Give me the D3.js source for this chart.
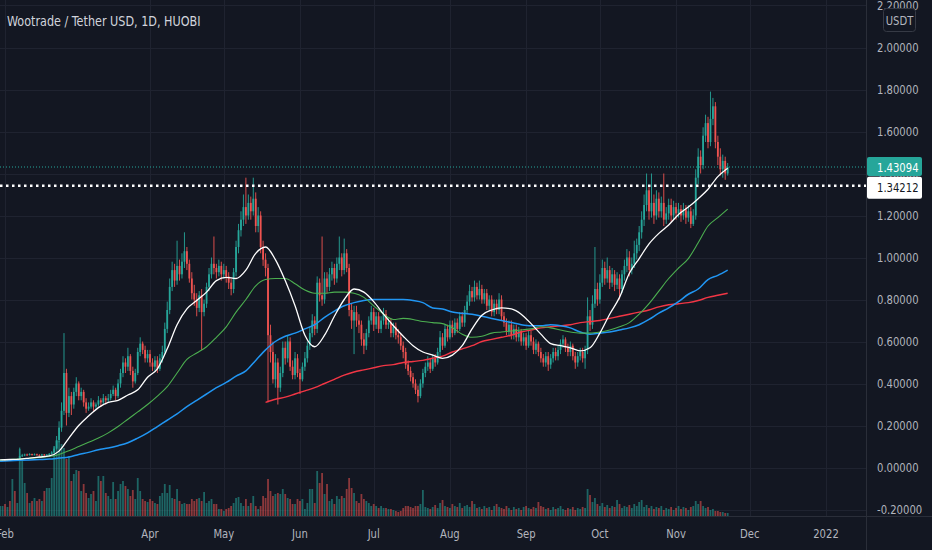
<!DOCTYPE html>
<html>
<head>
<meta charset="utf-8">
<script src="https://cdn.jsdelivr.net/npm/d3@7"></script>
<style>
    html, body { margin: 0; padding: 0; background: #131722; overflow: hidden; }
    svg { display: block; }
    text { font-family: "DejaVu Sans Condensed", "Liberation Sans", sans-serif; }
</style>
</head>
<body>
<svg id="chart" width="932" height="550"></svg>
<script>
const title = 'Wootrade / Tether USD, 1D, HUOBI';
const quoteUnit = 'USDT';

// daily candles, first one on 2021-01-30, open of a day = close of the day before
const firstDay = '2021-01-30';
const firstOpen = 0.033;
const closes = [
    0.034, 0.036, 0.035, 0.037, 0.036, 0.038, 0.037,
    0.040, 0.055, 0.058, 0.062, 0.060, 0.064, 0.061,
    0.063, 0.060, 0.058, 0.062, 0.059, 0.061, 0.065,
    0.072, 0.090, 0.130, 0.190, 0.270, 0.450, 0.260,
    0.34, 0.30, 0.36, 0.40, 0.34, 0.36, 0.31,
    0.28, 0.29, 0.31, 0.29, 0.30, 0.32, 0.31,
    0.33, 0.32, 0.33, 0.35, 0.37, 0.34, 0.40,
    0.45, 0.50, 0.48, 0.53, 0.46, 0.41, 0.45,
    0.55, 0.59, 0.56, 0.52, 0.54, 0.50, 0.48,
    0.51, 0.47, 0.52, 0.55, 0.66, 0.75, 0.86,
    0.94, 0.89, 0.96, 0.92, 0.98, 1.03, 0.97,
    0.90, 0.83, 0.80, 0.76, 0.82, 0.74, 0.78,
    0.86, 0.92, 0.97, 0.95, 0.93, 0.96, 0.92,
    0.94, 0.91, 0.88, 0.85, 0.93, 1.05, 1.13,
    1.18, 1.24, 1.20, 1.26, 1.22, 1.28, 1.15,
    1.20, 1.05, 0.99, 0.95, 0.63, 0.55, 0.42,
    0.50, 0.38, 0.45, 0.57, 0.52, 0.60, 0.48,
    0.44, 0.52, 0.45, 0.42, 0.48, 0.52, 0.58,
    0.64, 0.70, 0.66, 0.88, 0.82, 0.80, 0.90,
    0.86, 0.92, 0.95, 0.90, 0.97, 1.00, 0.94,
    1.02, 0.95, 0.75, 0.70, 0.74, 0.70, 0.68,
    0.61, 0.58, 0.64, 0.70, 0.74, 0.68, 0.72,
    0.66, 0.70, 0.73, 0.68, 0.69, 0.64, 0.67,
    0.63, 0.62, 0.58, 0.55, 0.49, 0.46, 0.43,
    0.40, 0.37, 0.34, 0.40, 0.45, 0.48, 0.50,
    0.47, 0.52, 0.50, 0.55, 0.62, 0.58, 0.66,
    0.62, 0.68, 0.64, 0.69, 0.66, 0.72, 0.69,
    0.75, 0.79, 0.84, 0.81, 0.86, 0.82, 0.85,
    0.80, 0.83, 0.77, 0.80, 0.74, 0.78, 0.75,
    0.80, 0.72, 0.69, 0.65, 0.68, 0.63, 0.66,
    0.62, 0.65, 0.60, 0.62, 0.58, 0.63, 0.60,
    0.56, 0.59, 0.55, 0.52, 0.50, 0.53, 0.49,
    0.52, 0.55, 0.53, 0.56, 0.59, 0.61, 0.57,
    0.55, 0.58, 0.53, 0.50, 0.53, 0.55, 0.52,
    0.56, 0.72, 0.68, 0.78, 0.85, 0.80, 0.88,
    0.95, 0.90, 0.94, 0.88, 0.92, 0.87, 0.90,
    0.85, 0.92, 0.96, 1.00, 0.94, 0.97, 1.02,
    1.06, 1.12, 1.18, 1.25, 1.32, 1.22, 1.26,
    1.20, 1.28, 1.22, 1.26, 1.18, 1.21, 1.25,
    1.20, 1.24, 1.21, 1.23, 1.20, 1.23, 1.19,
    1.22, 1.16, 1.20, 1.38, 1.48, 1.44, 1.58,
    1.64, 1.55, 1.66, 1.72, 1.55, 1.48, 1.42,
    1.46, 1.40, 1.43094,
];
const highs = [
    0.036, 0.038, 0.037, 0.039, 0.038, 0.040, 0.039,
    0.043, 0.095, 0.065, 0.066, 0.066, 0.068, 0.066,
    0.067, 0.066, 0.063, 0.065, 0.064, 0.064, 0.069,
    0.078, 0.100, 0.150, 0.220, 0.310, 0.640, 0.470,
    0.38, 0.36, 0.38, 0.43, 0.41, 0.38, 0.37,
    0.33, 0.31, 0.33, 0.32, 0.31, 0.34, 0.33,
    0.35, 0.34, 0.35, 0.37, 0.39, 0.38, 0.42,
    0.47, 0.53, 0.52, 0.57, 0.54, 0.48, 0.47,
    0.57, 0.62, 0.60, 0.58, 0.56, 0.56, 0.52,
    0.53, 0.53, 0.54, 0.58, 0.69, 0.79, 0.90,
    0.98, 0.97, 1.08, 0.99, 1.02, 1.12, 1.05,
    0.99, 0.93, 0.87, 0.83, 0.84, 0.85, 0.80,
    0.88, 0.95, 1.00, 1.10, 0.97, 0.99, 0.98,
    0.97, 0.96, 0.93, 0.90, 0.95, 1.08, 1.16,
    1.22, 1.30, 1.38, 1.30, 1.29, 1.38, 1.31,
    1.24, 1.22, 1.08, 1.02, 0.97, 0.68, 0.60,
    0.54, 0.52, 0.48, 0.60, 0.60, 0.63, 0.62,
    0.51, 0.55, 0.54, 0.47, 0.50, 0.55, 0.60,
    0.67, 0.73, 0.72, 0.91, 0.90, 1.10, 0.93,
    0.93, 0.95, 0.98, 0.97, 1.00, 1.10, 1.02,
    1.09, 1.04, 0.97, 0.78, 0.77, 0.77, 0.73,
    0.70, 0.64, 0.66, 0.72, 0.77, 0.76, 0.74,
    0.74, 0.72, 0.76, 0.75, 0.71, 0.71, 0.69,
    0.69, 0.66, 0.64, 0.60, 0.57, 0.51, 0.48,
    0.45, 0.42, 0.39, 0.42, 0.47, 0.50, 0.53,
    0.52, 0.54, 0.54, 0.57, 0.65, 0.64, 0.68,
    0.68, 0.70, 0.70, 0.71, 0.71, 0.74, 0.74,
    0.77, 0.82, 0.87, 0.86, 0.89, 0.88, 0.89,
    0.87, 0.85, 0.85, 0.82, 0.82, 0.80, 0.80,
    0.83, 0.82, 0.74, 0.71, 0.70, 0.70, 0.68,
    0.68, 0.67, 0.66, 0.64, 0.64, 0.65, 0.65,
    0.62, 0.61, 0.60, 0.57, 0.54, 0.55, 0.55,
    0.54, 0.57, 0.57, 0.58, 0.61, 0.63, 0.62,
    0.59, 0.60, 0.59, 0.55, 0.55, 0.57, 0.57,
    0.58, 0.81, 0.75, 0.82, 1.05, 0.88, 0.92,
    0.99, 0.98, 1.00, 0.96, 0.95, 0.94, 0.93,
    0.92, 0.94, 0.99, 1.04, 1.03, 1.00, 1.08,
    1.09, 1.15, 1.22, 1.30, 1.40, 1.34, 1.40,
    1.30, 1.32, 1.31, 1.29, 1.40, 1.24, 1.28,
    1.28, 1.27, 1.26, 1.26, 1.25, 1.26, 1.25,
    1.25, 1.24, 1.23, 1.42, 1.52, 1.51, 1.62,
    1.68, 1.67, 1.79, 1.76, 1.74, 1.58, 1.52,
    1.49, 1.48, 1.45,
];
const lows = [
    0.031, 0.033, 0.033, 0.034, 0.034, 0.035, 0.035,
    0.035, 0.038, 0.050, 0.054, 0.056, 0.057, 0.057,
    0.058, 0.057, 0.054, 0.055, 0.056, 0.056, 0.059,
    0.062, 0.068, 0.085, 0.120, 0.170, 0.250, 0.200,
    0.24, 0.25, 0.28, 0.34, 0.32, 0.32, 0.29,
    0.26, 0.27, 0.28, 0.27, 0.28, 0.29, 0.29,
    0.30, 0.30, 0.31, 0.32, 0.34, 0.32, 0.33,
    0.38, 0.43, 0.45, 0.46, 0.44, 0.38, 0.40,
    0.44, 0.53, 0.54, 0.50, 0.50, 0.48, 0.46,
    0.46, 0.45, 0.46, 0.50, 0.54, 0.64, 0.73,
    0.84, 0.86, 0.87, 0.89, 0.90, 0.95, 0.94,
    0.88, 0.80, 0.77, 0.72, 0.74, 0.56, 0.72,
    0.76, 0.84, 0.90, 0.92, 0.90, 0.91, 0.89,
    0.90, 0.88, 0.85, 0.82, 0.83, 0.91, 1.02,
    1.10, 1.15, 1.16, 1.18, 1.18, 1.20, 1.12,
    1.12, 1.02, 0.96, 0.91, 0.31, 0.50, 0.40,
    0.38, 0.30, 0.36, 0.43, 0.49, 0.50, 0.46,
    0.42, 0.42, 0.43, 0.35, 0.41, 0.46, 0.50,
    0.56, 0.62, 0.63, 0.64, 0.79, 0.77, 0.78,
    0.83, 0.84, 0.89, 0.87, 0.88, 0.94, 0.91,
    0.92, 0.93, 0.72, 0.66, 0.54, 0.67, 0.64,
    0.58, 0.54, 0.56, 0.62, 0.68, 0.65, 0.66,
    0.64, 0.64, 0.68, 0.66, 0.66, 0.62, 0.62,
    0.61, 0.59, 0.56, 0.52, 0.47, 0.44, 0.41,
    0.38, 0.35, 0.31, 0.33, 0.38, 0.43, 0.46,
    0.45, 0.46, 0.48, 0.49, 0.53, 0.56, 0.57,
    0.60, 0.61, 0.62, 0.63, 0.64, 0.65, 0.67,
    0.67, 0.73, 0.77, 0.79, 0.79, 0.80, 0.80,
    0.78, 0.78, 0.75, 0.75, 0.72, 0.72, 0.73,
    0.73, 0.70, 0.67, 0.63, 0.63, 0.61, 0.61,
    0.60, 0.60, 0.58, 0.58, 0.56, 0.57, 0.58,
    0.54, 0.54, 0.53, 0.50, 0.48, 0.48, 0.46,
    0.47, 0.50, 0.51, 0.51, 0.54, 0.57, 0.55,
    0.53, 0.53, 0.51, 0.47, 0.48, 0.51, 0.50,
    0.47, 0.54, 0.65, 0.66, 0.76, 0.77, 0.78,
    0.86, 0.87, 0.88, 0.85, 0.86, 0.84, 0.85,
    0.80, 0.83, 0.89, 0.93, 0.91, 0.92, 0.95,
    0.99, 1.03, 1.09, 1.15, 1.22, 1.18, 1.19,
    1.16, 1.18, 1.19, 1.19, 1.15, 1.16, 1.18,
    1.17, 1.18, 1.18, 1.19, 1.17, 1.18, 1.16,
    1.17, 1.14, 1.15, 1.18, 1.35, 1.40, 1.42,
    1.55, 1.52, 1.53, 1.63, 1.52, 1.44, 1.39,
    1.38, 1.37, 1.39,
];
// volume, in thousands of WOO
const volumes = [
    10, 10, 12, 9, 15, 37, 25,
    13, 67, 58, 33, 23, 13, 15,
    18, 15, 17, 15, 25, 28, 28,
    38, 70, 75, 75, 72, 68, 57,
    60, 35, 42, 46, 45, 25, 32,
    23, 18, 22, 25, 15, 40, 35,
    40, 23, 20, 17, 34, 17, 25,
    32, 35, 30, 27, 20, 26, 17,
    38, 25, 17, 15, 14, 17, 15,
    13, 12, 20, 23, 32, 23, 31,
    18, 17, 27, 15, 12, 13, 12,
    12, 17, 15, 17, 18, 15, 24,
    13, 15, 17, 12, 12, 7, 7,
    5, 7, 8, 10, 13, 18, 19,
    13, 10, 17, 10, 13, 20, 10,
    7, 10, 20, 18, 37, 25, 20,
    22, 23, 22, 27, 22, 18, 17,
    12, 12, 17, 15, 17, 7, 13,
    27, 27, 13, 45, 33, 43, 22,
    32, 15, 17, 12, 20, 17, 20,
    18, 27, 38, 28, 23, 15, 13,
    22, 17, 15, 13, 10, 12, 10,
    8, 10, 8, 8, 7, 7, 6,
    5, 4, 5, 8, 10, 10, 9,
    8, 10, 10, 12, 26, 9, 8,
    7, 9, 11, 8, 13, 16, 10,
    9, 8, 12, 10, 9, 13, 8,
    10, 11, 9, 15, 12, 8, 9,
    7, 10, 8, 9, 6, 10, 12,
    9, 8, 7, 10, 8, 6, 9,
    7, 8, 6, 9, 10, 8, 7,
    9, 8, 14, 10, 9, 7, 8,
    6, 9, 7, 8, 10, 7, 6,
    8, 7, 9, 6, 8, 7, 9,
    8, 27, 21, 14, 18, 12, 10,
    13, 9, 11, 8, 10, 9, 16,
    12, 8, 10, 9, 11, 8, 12,
    10, 14, 16, 9, 11, 8, 10,
    7, 9, 8, 10, 6, 8, 7,
    9, 6, 8, 10, 7, 9, 8,
    6, 9, 10, 15, 12, 15, 10,
    8, 9, 6, 7, 5, 5, 4,
    4, 3, 3,
];

// moving averages, read every 4 days starting 2021-01-30
const maStep = 4;
const maWhite = [
    0.036, 0.038, 0.040, 0.045, 0.050, 0.055, 0.078, 0.14, 0.20, 0.245,
    0.285, 0.31, 0.32, 0.345, 0.37, 0.43, 0.47, 0.565, 0.68, 0.755,
    0.795, 0.835, 0.89, 0.905, 0.90, 0.94, 1.02, 1.05, 0.99, 0.89,
    0.77, 0.63, 0.575, 0.63, 0.72, 0.80, 0.85, 0.835, 0.79, 0.73,
    0.675, 0.625, 0.58, 0.55, 0.535, 0.52, 0.535, 0.58, 0.66, 0.725,
    0.75, 0.76, 0.755, 0.73, 0.685, 0.635, 0.59, 0.58, 0.57, 0.555,
    0.57, 0.64, 0.73, 0.81, 0.925, 0.995, 1.065, 1.115, 1.155, 1.205,
    1.24, 1.28, 1.325, 1.385, 1.425,
];
const maGreen = [
    0.036, 0.038, 0.040, 0.044, 0.048, 0.052, 0.062, 0.08, 0.10, 0.12,
    0.14, 0.165, 0.195, 0.23, 0.265, 0.30, 0.34, 0.385, 0.45, 0.515,
    0.545, 0.575, 0.62, 0.67, 0.74, 0.80, 0.865, 0.895, 0.90, 0.90,
    0.875, 0.845, 0.83, 0.83, 0.835, 0.835, 0.83, 0.81, 0.77, 0.73,
    0.705, 0.71, 0.705, 0.695, 0.69, 0.685, 0.665, 0.635, 0.62, 0.625,
    0.64, 0.645, 0.65, 0.655, 0.66, 0.67, 0.665, 0.655, 0.645, 0.64,
    0.64, 0.645, 0.655, 0.67, 0.69, 0.73, 0.78, 0.84, 0.90, 0.95,
    0.995, 1.07, 1.15, 1.19, 1.23,
];
const maBlue = [
    0.030, 0.032, 0.034, 0.036, 0.038, 0.040, 0.045, 0.05, 0.062, 0.072,
    0.085, 0.093, 0.104, 0.118, 0.14, 0.165, 0.195, 0.225, 0.255, 0.29,
    0.32, 0.35, 0.38, 0.405, 0.435, 0.46, 0.51, 0.56, 0.60, 0.625,
    0.64, 0.66, 0.68, 0.715, 0.745, 0.77, 0.785, 0.795, 0.80, 0.80,
    0.80, 0.80, 0.795, 0.785, 0.76, 0.755, 0.74, 0.735, 0.73, 0.72,
    0.71, 0.70, 0.69, 0.68, 0.675, 0.675, 0.68, 0.675, 0.665, 0.645,
    0.635, 0.64, 0.645, 0.655, 0.665, 0.68, 0.705, 0.735, 0.76, 0.79,
    0.825, 0.85, 0.895, 0.915, 0.94,
];
const maRed = [
    null, null, null, null, null, null, null, null, null, null,
    null, null, null, null, null, null, null, null, null, null,
    null, null, null, null, null, null, null, 0.31, 0.325, 0.335,
    0.35, 0.365, 0.38, 0.40, 0.42, 0.44, 0.455, 0.465, 0.475, 0.485,
    0.49, 0.50, 0.505, 0.51, 0.52, 0.53, 0.55, 0.565, 0.58, 0.60,
    0.61, 0.62, 0.63, 0.645, 0.655, 0.665, 0.67, 0.675, 0.68, 0.69,
    0.695, 0.70, 0.71, 0.72, 0.73, 0.74, 0.75, 0.765, 0.775, 0.78,
    0.785, 0.795, 0.81, 0.82, 0.83,
];

const priceTicks = [-0.2, 0, 0.2, 0.4, 0.6, 0.8, 1.0, 1.2, 1.4, 1.6, 1.8, 2.0, 2.2];
const timeTicks = [
    ['2021-02-01', 'Feb'], ['2021-04-01', 'Apr'], ['2021-05-01', 'May'],
    ['2021-06-01', 'Jun'], ['2021-07-01', 'Jul'], ['2021-08-01', 'Aug'],
    ['2021-09-01', 'Sep'], ['2021-10-01', 'Oct'], ['2021-11-01', 'Nov'],
    ['2021-12-01', 'Dec'], ['2022-01-01', '2022'],
];
const markPrice = 1.34212;

const parse = d3.utcParse('%Y-%m-%d');
const paneW = 866;
const paneH = 516;
const up = '#26a69a';
const down = '#ef5350';
const squeeze = 0.86; // the screenshot's text is narrower than the installed fonts

const x = d3.scaleUtc()
    .domain([parse('2021-02-01'), parse('2022-01-01')])
    .range([5, 826]);
const y = d3.scaleLinear().domain([0, 2]).range([467.5, 47.5]);
const yVol = d3.scaleLinear().domain([0, 100]).range([paneH, paneH - 100]);

const start = parse(firstDay);
const candles = closes.map((c, i) => ({
    date: d3.utcDay.offset(start, i),
    o: i === 0 ? firstOpen : closes[i - 1],
    h: highs[i],
    l: lows[i],
    c,
    v: volumes[i],
}));

const svg = d3.select('#chart');
svg.append('rect').attr('width', 932).attr('height', 550).attr('fill', '#131722');

svg.append('clipPath').attr('id', 'pane')
    .append('rect').attr('width', paneW).attr('height', paneH);

const pane = svg.append('g').attr('clip-path', 'url(#pane)');

function label(parent, tx, ty, str, size, color, anchor) {
    return parent.append('text')
        .attr('transform', `translate(${tx},${ty}) scale(${squeeze},1)`)
        .attr('dy', '0.35em')
        .attr('text-anchor', anchor || 'start')
        .attr('fill', color)
        .attr('font-size', size)
        .text(str);
}

// grid
pane.selectAll('line.hgrid')
    .data(priceTicks)
    .join('line')
    .attr('class', 'hgrid')
    .attr('x1', 0).attr('x2', paneW)
    .attr('y1', (d) => Math.round(y(d)) + 0.5)
    .attr('y2', (d) => Math.round(y(d)) + 0.5)
    .attr('stroke', '#1f2330')
    .attr('stroke-width', 1);

pane.selectAll('line.vgrid')
    .data(timeTicks)
    .join('line')
    .attr('class', 'vgrid')
    .attr('x1', (d) => Math.round(x(parse(d[0]))) + 0.5)
    .attr('x2', (d) => Math.round(x(parse(d[0]))) + 0.5)
    .attr('y1', 0).attr('y2', paneH)
    .attr('stroke', '#1f2330')
    .attr('stroke-width', 1);

// volume
pane.selectAll('rect.vol')
    .data(candles)
    .join('rect')
    .attr('class', 'vol')
    .attr('x', (d) => x(d.date) - 0.9)
    .attr('width', 1.8)
    .attr('y', (d) => yVol(d.v))
    .attr('height', (d) => paneH - yVol(d.v))
    .attr('fill', (d) => (d.c >= d.o ? up : down))
    .attr('opacity', 0.55);

// candles
const candle = pane.selectAll('g.candle')
    .data(candles)
    .join('g')
    .attr('class', 'candle');

candle.append('line')
    .attr('x1', (d) => x(d.date))
    .attr('x2', (d) => x(d.date))
    .attr('y1', (d) => y(d.h))
    .attr('y2', (d) => y(d.l))
    .attr('stroke', (d) => (d.c >= d.o ? up : down))
    .attr('stroke-width', 0.9);

candle.append('rect')
    .attr('x', (d) => x(d.date) - 0.9)
    .attr('width', 1.8)
    .attr('y', (d) => y(Math.max(d.o, d.c)))
    .attr('height', (d) => Math.max(1, Math.abs(y(d.o) - y(d.c))))
    .attr('fill', (d) => (d.c >= d.o ? up : down));

// moving averages
const maLine = d3.line()
    .defined((d) => d.v !== null)
    .x((d) => x(d.date))
    .y((d) => y(d.v))
    .curve(d3.curveMonotoneX);

[[maRed, '#f23645', 1.4], [maBlue, '#2196f3', 1.5], [maGreen, '#4caf50', 1.1], [maWhite, '#ffffff', 1.3]]
    .forEach(([values, color, width]) => {
        const pts = values.map((v, i) => ({ date: d3.utcDay.offset(start, i * maStep), v }));
        pane.append('path')
            .attr('d', maLine(pts))
            .attr('fill', 'none')
            .attr('stroke', color)
            .attr('stroke-width', width);
    });

// last price and marked level
const last = candles[candles.length - 1];
pane.append('line')
    .attr('x1', 0).attr('x2', paneW)
    .attr('y1', y(last.c)).attr('y2', y(last.c))
    .attr('stroke', up)
    .attr('stroke-width', 1)
    .attr('stroke-dasharray', '1,2');

pane.append('line')
    .attr('x1', 0).attr('x2', paneW)
    .attr('y1', y(markPrice)).attr('y2', y(markPrice))
    .attr('stroke', '#ffffff')
    .attr('stroke-width', 2.5)
    .attr('stroke-dasharray', '2.5,3.5');

// borders
svg.append('line')
    .attr('x1', paneW + 0.5).attr('x2', paneW + 0.5)
    .attr('y1', 0).attr('y2', 550)
    .attr('stroke', '#2a2e39');
svg.append('line')
    .attr('x1', 0).attr('x2', 932)
    .attr('y1', paneH + 0.5).attr('y2', paneH + 0.5)
    .attr('stroke', '#2a2e39');

// price axis
priceTicks.forEach((d) => label(svg, 877, y(d), d.toFixed(5), 13, '#b2b5be'));

svg.append('rect')
    .attr('x', 883.5).attr('y', 8.5)
    .attr('width', 32).attr('height', 23)
    .attr('rx', 3)
    .attr('fill', '#131722')
    .attr('stroke', '#363a45');
label(svg, 899.5, 20, quoteUnit, 13, '#b2b5be', 'middle');

svg.append('rect')
    .attr('x', 867).attr('y', y(last.c) - 10)
    .attr('width', 55).attr('height', 19)
    .attr('rx', 2)
    .attr('fill', up);
label(svg, 877, y(last.c), last.c.toFixed(5), 13, '#ffffff');

svg.append('rect')
    .attr('x', 867).attr('y', y(markPrice) - 9)
    .attr('width', 55).attr('height', 22)
    .attr('rx', 2)
    .attr('fill', '#ffffff');
label(svg, 877, y(markPrice) + 1.5, markPrice.toFixed(5), 13, '#131722');

// time axis
timeTicks.forEach((d) => label(svg, x(parse(d[0])), 533, d[1], 13, '#b2b5be', 'middle'));

// title
label(svg, 7, 21, title, 14.5, '#d1d4dc');
</script>
</body>
</html>
